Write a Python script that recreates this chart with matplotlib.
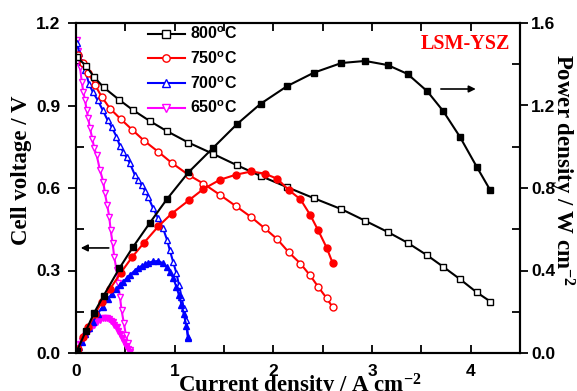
import matplotlib
matplotlib.use("Agg")
import matplotlib.pyplot as plt
from matplotlib.lines import Line2D

plt.rcParams['mathtext.default'] = 'regular'

# ---------------- data ----------------
# 800 C
i800 = [0.01, 0.10, 0.18, 0.28, 0.44, 0.575, 0.75, 0.92, 1.14, 1.39, 1.63, 1.87, 2.14, 2.41,
        2.69, 2.93, 3.16, 3.36, 3.56, 3.72, 3.89, 4.06, 4.20]
v800 = [1.075, 1.045, 1.005, 0.966, 0.92, 0.884, 0.843, 0.807, 0.765, 0.724, 0.683, 0.644,
        0.603, 0.563, 0.523, 0.481, 0.44, 0.401, 0.355, 0.314, 0.269, 0.221, 0.187]
p800 = [0.01, 0.107, 0.192, 0.278, 0.411, 0.512, 0.632, 0.745, 0.876, 0.995, 1.109, 1.208,
        1.294, 1.359, 1.406, 1.416, 1.396, 1.353, 1.269, 1.174, 1.049, 0.904, 0.788]

# 750 C
i750 = [0.02, 0.074, 0.124, 0.192, 0.26, 0.344, 0.455, 0.569, 0.69, 0.836, 0.968, 1.143,
        1.291, 1.459, 1.625, 1.776, 1.911, 2.039, 2.157, 2.275, 2.373, 2.454, 2.541, 2.602]
v750 = [1.084, 1.053, 1.019, 0.975, 0.932, 0.889, 0.85, 0.812, 0.772, 0.731, 0.692, 0.647,
        0.616, 0.575, 0.533, 0.494, 0.454, 0.414, 0.366, 0.325, 0.282, 0.241, 0.199, 0.166]
p750 = [0.02, 0.08, 0.125, 0.19, 0.245, 0.31, 0.39, 0.465, 0.535, 0.615, 0.675, 0.74,
        0.795, 0.84, 0.865, 0.88, 0.87, 0.845, 0.79, 0.745, 0.67, 0.595, 0.51, 0.435]

# 700 C
i700 = [0.013, 0.033, 0.057, 0.091, 0.131, 0.169, 0.219, 0.27, 0.32, 0.36, 0.41, 0.445,
        0.478, 0.512, 0.546, 0.597, 0.63, 0.664, 0.70, 0.731, 0.782, 0.832, 0.883, 0.923,
        0.95, 0.984, 1.018, 1.044, 1.069, 1.092, 1.119, 1.135]
v700 = [1.128, 1.09, 1.06, 1.03, 0.98, 0.95, 0.92, 0.884, 0.847, 0.823, 0.787, 0.753,
        0.732, 0.711, 0.69, 0.647, 0.63, 0.611, 0.59, 0.568, 0.526, 0.49, 0.453, 0.411,
        0.375, 0.332, 0.29, 0.247, 0.205, 0.163, 0.12, 0.059]
p700 = [0.01, 0.03, 0.055, 0.09, 0.12, 0.15, 0.19, 0.225, 0.26, 0.285, 0.31, 0.33,
        0.345, 0.362, 0.378, 0.40, 0.411, 0.422, 0.43, 0.437, 0.444, 0.446, 0.435, 0.415,
        0.394, 0.365, 0.32, 0.28, 0.235, 0.19, 0.13, 0.075]

# 650 C
i650 = [0.007, 0.023, 0.04, 0.058, 0.074, 0.091, 0.108, 0.124, 0.142, 0.165, 0.185, 0.209,
        0.243, 0.276, 0.293, 0.316, 0.337, 0.351, 0.371, 0.387, 0.411, 0.428, 0.445, 0.462,
        0.485, 0.506, 0.529, 0.546]
v650 = [1.138, 1.10, 1.04, 0.987, 0.95, 0.92, 0.884, 0.853, 0.817, 0.78, 0.744, 0.72,
        0.665, 0.623, 0.581, 0.538, 0.496, 0.447, 0.399, 0.35, 0.302, 0.253, 0.205, 0.156,
        0.108, 0.065, 0.035, 0.011]
p650 = [0.008, 0.025, 0.042, 0.057, 0.07, 0.084, 0.095, 0.106, 0.116, 0.129, 0.138, 0.15,
        0.162, 0.172, 0.17, 0.17, 0.167, 0.157, 0.148, 0.135, 0.124, 0.108, 0.091, 0.072,
        0.052, 0.033, 0.019, 0.006]

legend_labels = ["800$^{o}$C", "750$^{o}$C", "700$^{o}$C", "650$^{o}$C"]
x_ticks = [0, 1, 2, 3, 4]
y_ticks = [0.0, 0.3, 0.6, 0.9, 1.2]
y2_ticks = [0.0, 0.4, 0.8, 1.2, 1.6]

# ---------------- figure ----------------
W, H = 577, 391
fig = plt.figure(figsize=(W / 100, H / 100), dpi=100)
L, R, B, T = 76, 520, 353, 23
ax = fig.add_axes([L / W, 1 - B / H, (R - L) / W, (B - T) / H])
ax2 = ax.twinx()

lw = 1.5
ms = 5.0
series = [
    (i800, v800, p800, 'black', 's', 's'),
    (i750, v750, p750, 'red', 'o', 'o'),
    (i700, v700, p700, 'blue', '^', '^'),
    (i650, v650, p650, 'magenta', 'v', 'v'),
]
for cur, volt, powr, col, mk, mk2 in reversed(series):
    ax.plot(cur, volt, color=col, lw=lw, marker=mk, ms=ms, mfc='white', mec=col, mew=1.0)
    ax2.plot(cur, powr, color=col, lw=lw, marker=mk2, ms=ms, mfc=col, mec=col, mew=1.0)

ax.set_xlim(0, 4.5)
ax.set_ylim(0, 1.2)
ax2.set_ylim(0, 1.6)
ax.set_xticks(x_ticks)
ax.set_xticks([0.5, 1.5, 2.5, 3.5], minor=True)
ax.set_yticks(y_ticks)
ax.set_yticks([0.15, 0.45, 0.75, 1.05], minor=True)
ax2.set_yticks(y2_ticks)
ax2.set_yticks([0.2, 0.6, 1.0, 1.4], minor=True)
ax.set_xticklabels([str(v) for v in x_ticks])
ax.set_yticklabels([f"{v:.1f}" for v in y_ticks])
ax2.set_yticklabels([f"{v:.1f}" for v in y2_ticks])

tickfont = dict(family='Liberation Sans', weight='bold', size=12.5)
for lab in ax.get_xticklabels() + ax.get_yticklabels() + ax2.get_yticklabels():
    lab.set_fontproperties(matplotlib.font_manager.FontProperties(**tickfont))

for a in (ax, ax2):
    for s in a.spines.values():
        s.set_linewidth(1.5)
ax.tick_params(axis='x', which='both', direction='in', length=6, width=1.3, pad=8, top=True)
ax.tick_params(axis='x', which='both', top=True, labeltop=False)
ax.tick_params(axis='y', which='major', direction='out', length=6, width=1.3, pad=5)
ax.tick_params(axis='y', which='minor', direction='in', length=6, width=1.3)
ax2.tick_params(axis='y', which='major', direction='out', length=6, width=1.3, pad=2)
ax2.tick_params(axis='y', which='minor', direction='in', length=6, width=1.3)

labfont = dict(family='Liberation Serif', weight='bold', size=16.5)
fig.text(22 / W, 1 - 170 / H, "Cell voltage / V", rotation=90, ha='center', va='center', **labfont)
fig.text(562 / W, 1 - 170 / H, "Power density / W cm$^{-2}$", rotation=270, ha='center', va='center', **labfont)
fig.text(300 / W, 1 - 392 / H, "Current density / A cm$^{-2}$", ha='center', va='baseline', **labfont)

ax.text(3.95, 1.125, "LSM-YSZ", color='red', ha='center', va='center',
        family='Liberation Serif', weight='bold', size=14.5)

# arrows
ax2.annotate('', xy=(4.08, 1.28), xytext=(3.67, 1.28),
             arrowprops=dict(arrowstyle='-|>', color='black', lw=1.2, mutation_scale=10))
ax.annotate('', xy=(0.02, 0.382), xytext=(0.36, 0.382),
            arrowprops=dict(arrowstyle='-|>', color='black', lw=1.2, mutation_scale=10))

handles = [Line2D([], [], color=c, lw=lw, marker=m, ms=ms + 0.3, mfc='white', mec=c, mew=1.0)
           for (_, _, _, c, m, _) in series]
leg = ax.legend(handles, legend_labels, loc='upper left', bbox_to_anchor=(0.13, 1.035),
                frameon=False, handlelength=2.3, handletextpad=0.3, labelspacing=0.5,
                prop=dict(family='Liberation Sans', weight='bold', size=11.5))

fig.savefig("out.png", dpi=100)
